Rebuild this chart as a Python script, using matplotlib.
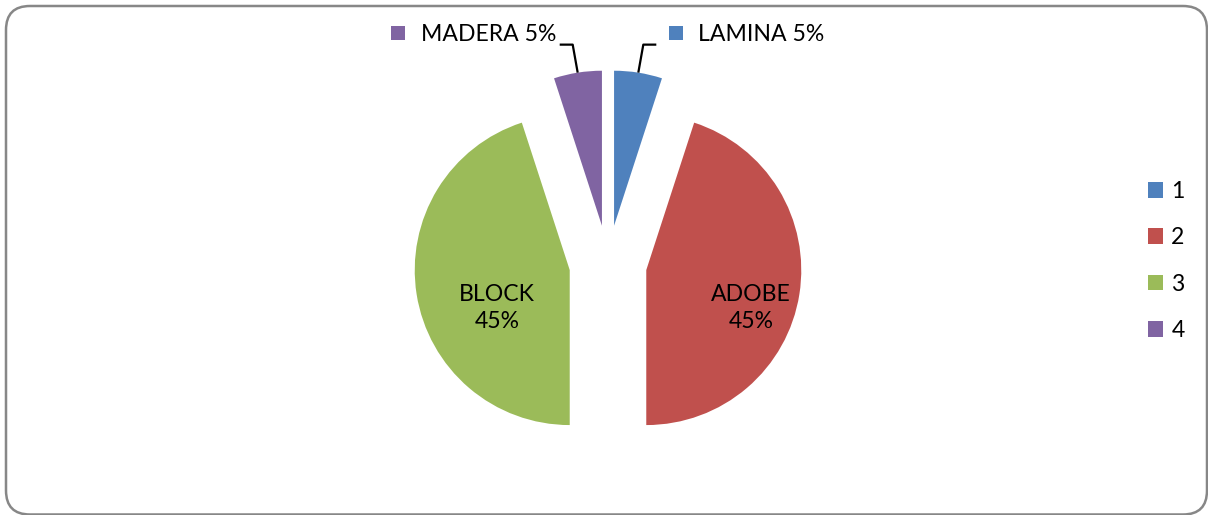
import numpy as np
import matplotlib.pyplot as plt
from matplotlib.patches import FancyBboxPatch, Rectangle, Patch
from matplotlib.transforms import IdentityTransform

# chart data
labels = ['LAMINA', 'ADOBE', 'BLOCK', 'MADERA']
values = [5, 45, 45, 5]
legend_labels = ['1', '2', '3', '4']
colors = ['#4F81BD', '#C0504D', '#9BBB59', '#8064A2']

W, H, DPI = 1208, 515, 100
CX, CY, R = 608, 264, 155   # pie centre and radius in pixels
FONT = 'Lato'
FS = 16.6


def px(x, y):
    # image pixel -> data coords of the pie axes
    return (x - CX) / R, (CY - y) / R


fig = plt.figure(figsize=(W / DPI, H / DPI), dpi=DPI)
ax = fig.add_axes([0, 0, 1, 1])

wedges, _ = ax.pie(values, colors=colors, startangle=90, counterclock=False,
                   explode=[0.25] * len(values), radius=1,
                   wedgeprops=dict(linewidth=0))
ax.set_xlim(-CX / R, (W - CX) / R)
ax.set_ylim(-(H - CY) / R, CY / R)
ax.axis('off')

total = sum(values)
pct = [f'{round(100 * v / total)}%' for v in values]

# inside labels for the big slices
ax.text(*px(751, 308), f'{labels[1]}\n{pct[1]}', ha='center', va='center',
        fontsize=FS, family=FONT, linespacing=1.4)
ax.text(*px(497, 308), f'{labels[2]}\n{pct[2]}', ha='center', va='center',
        fontsize=FS, family=FONT, linespacing=1.4)

# outside labels with leader lines for the small slices
for i, side in ((0, 1), (3, -1)):
    w = wedges[i]
    th = np.deg2rad((w.theta1 + w.theta2) / 2)
    x0 = w.center[0] + w.r * np.cos(th)
    y0 = w.center[1] + w.r * np.sin(th)
    x1, y1 = x0 + side * 5 / R, y0 + 28 / R
    x2 = x1 + side * 13 / R
    ax.plot([x0, x1, x2], [y0, y1, y1], color='black', lw=1.6,
            solid_capstyle='butt')

sq = 14 / R
ax.add_patch(Rectangle(px(669, 40), sq, sq, color=colors[0], lw=0))
ax.text(*px(698, 35), f'{labels[0]} {pct[0]}', ha='left', va='center',
        fontsize=FS, family=FONT)
ax.add_patch(Rectangle(px(391, 40), sq, sq, color=colors[3], lw=0))
ax.text(*px(421, 35), f'{labels[3]} {pct[3]}', ha='left', va='center',
        fontsize=FS, family=FONT)

fig.legend(handles=[Patch(color=c, lw=0) for c in colors],
           labels=legend_labels, loc='center left',
           bbox_to_anchor=(1148 / W, 1 - 261 / H), frameon=False,
           prop={'family': FONT, 'size': FS}, handlelength=0.66,
           handleheight=0.66, labelspacing=1.1, handletextpad=0.35,
           borderpad=0, borderaxespad=0)

# rounded chart border (slightly clipped at right and bottom, as in the source)
border = FancyBboxPatch((6, 0.5), W - 7, H - 6.5,
                        boxstyle='round,pad=0,rounding_size=24',
                        transform=IdentityTransform(), fill=False,
                        ec='#878787', lw=1.8)
fig.patches.append(border)

fig.savefig('out.png', dpi=DPI)
